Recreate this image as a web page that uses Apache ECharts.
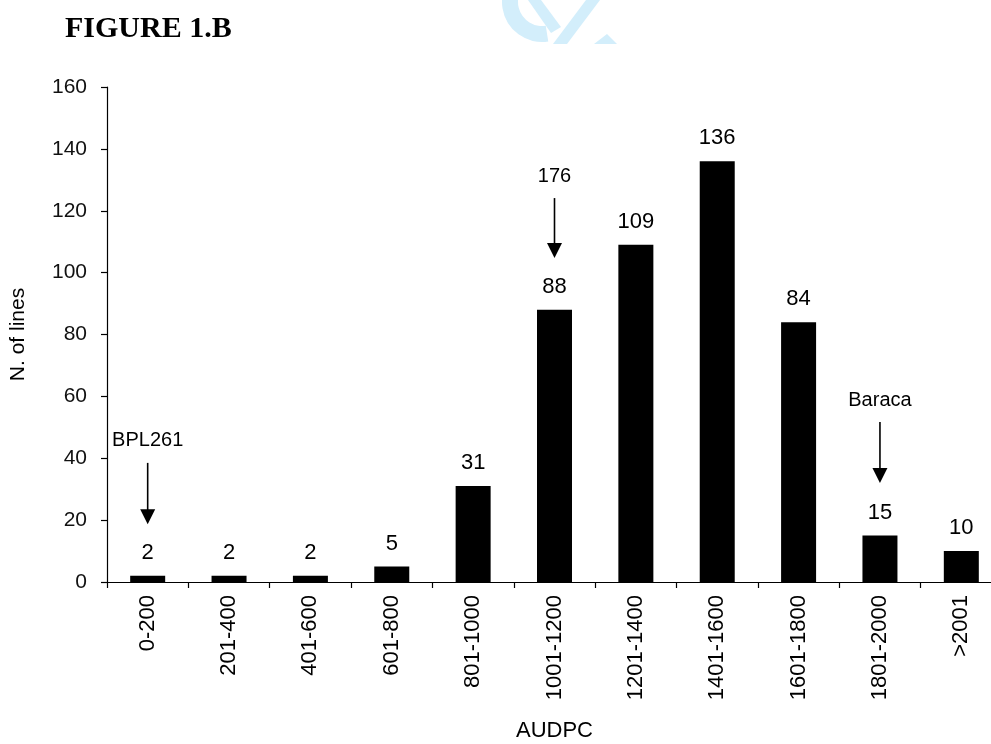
<!DOCTYPE html>
<html>
<head>
<meta charset="utf-8">
<title>FIGURE 1.B</title>
<script src="https://cdn.jsdelivr.net/npm/echarts@6/dist/echarts.min.js"></script>
<style>
  html, body { margin: 0; padding: 0; background: #fff; }
  #chart { width: 991px; height: 744px; }
</style>
</head>
<body>
<div id="chart"></div>
<script>
// AUDPC classes and the number of lines falling in each class
const categories = ['0-200', '201-400', '401-600', '601-800', '801-1000', '1001-1200',
  '1201-1400', '1401-1600', '1601-1800', '1801-2000', '>2001'];
const lineCounts = [2, 2, 2, 5, 31, 88, 109, 136, 84, 15, 10];

// Annotated lines: class they fall in, arrow start and tip (in axis units)
const noteLabels = ['BPL261', '176', 'Baraca'];
const noteClasses = ['0-200', '1001-1200', '1801-2000'];
const noteArrowFrom = [38.5, 124.1, 51.7];
const noteArrowTo = [18.7, 104.7, 32];

const FONT = 'Liberation Sans, Arial, Helvetica, sans-serif';
const WATERMARK = '#d3eefb';

const chart = echarts.init(document.getElementById('chart'), null, { renderer: 'canvas' });

const arrowData = noteClasses.map((c, i) => [categories.indexOf(c), noteArrowFrom[i], noteArrowTo[i]]);

function renderArrow(params, api) {
  const start = api.coord([api.value(0), api.value(1)]);
  const tip = api.coord([api.value(0), api.value(2)]);
  const x = start[0];
  const head = 15;
  const half = 7.5;
  return {
    type: 'group',
    children: [
      {
        type: 'line',
        shape: { x1: x, y1: start[1], x2: x, y2: tip[1] - head + 1 },
        style: { stroke: '#000', lineWidth: 1.6 }
      },
      {
        type: 'polygon',
        shape: { points: [[x - half, tip[1] - head], [x + half, tip[1] - head], [x, tip[1]]] },
        style: { fill: '#000' }
      },
      {
        type: 'text',
        x: x,
        y: start[1] - 12,
        style: {
          text: noteLabels[params.dataIndex],
          fontFamily: FONT,
          fontSize: 20,
          fill: '#000',
          align: 'center',
          verticalAlign: 'bottom'
        }
      }
    ]
  };
}

const option = {
  backgroundColor: '#fff',
  animation: false,
  graphic: [
    {
      type: 'text',
      left: 65,
      top: 14,
      style: {
        text: 'FIGURE 1.B',
        fontFamily: 'Liberation Serif, Times New Roman, serif',
        fontWeight: 'bold',
        fontSize: 30,
        fill: '#000'
      }
    },
    // pale page stamp peeking in at the top edge
    {
      type: 'group',
      silent: true,
      z: -10,
      children: [
        {
          type: 'sector',
          shape: { cx: 542, cy: 2, r: 40, r0: 24, startAngle: Math.PI * 0.45, endAngle: Math.PI * 1.05 },
          style: { fill: WATERMARK }
        },
        {
          type: 'polygon',
          shape: { points: [[528, 0], [541, 0], [561, 27], [551, 33]] },
          style: { fill: WATERMARK }
        },
        {
          type: 'polygon',
          shape: { points: [[553, 44], [567, 44], [600, 0], [586, 0]] },
          style: { fill: WATERMARK }
        },
        {
          type: 'polygon',
          shape: { points: [[594, 44], [617, 44], [607, 34]] },
          style: { fill: WATERMARK }
        }
      ]
    }
  ],
  grid: {
    left: 107,
    right: -11,
    top: 87,
    bottom: 162,
    outerBoundsMode: 'none',
    containLabel: false
  },
  xAxis: {
    type: 'category',
    data: categories,
    name: 'AUDPC',
    nameLocation: 'middle',
    nameGap: 138,
    nameTextStyle: { fontFamily: FONT, fontSize: 22, color: '#000' },
    axisLine: { lineStyle: { color: '#000', width: 1.2 } },
    axisTick: { show: true, length: 6, lineStyle: { color: '#000', width: 1.2 } },
    axisLabel: {
      rotate: 90,
      margin: 13,
      fontFamily: FONT,
      fontSize: 22,
      color: '#000',
      interval: 0
    },
    splitLine: { show: false }
  },
  yAxis: {
    type: 'value',
    min: 0,
    max: 160,
    interval: 20,
    name: 'N. of lines',
    nameLocation: 'middle',
    nameGap: 78,
    nameTextStyle: { fontFamily: FONT, fontSize: 21, color: '#000' },
    axisLine: { show: true, lineStyle: { color: '#000', width: 1.2 } },
    axisTick: { show: true, length: 6, lineStyle: { color: '#000', width: 1.2 } },
    axisLabel: { margin: 20, fontFamily: FONT, fontSize: 21, color: '#111' },
    splitLine: { show: false }
  },
  series: [
    {
      type: 'bar',
      data: lineCounts,
      barWidth: 35,
      itemStyle: { color: '#000' },
      label: {
        show: true,
        position: 'top',
        distance: 12,
        fontFamily: FONT,
        fontSize: 22,
        color: '#000'
      }
    },
    {
      type: 'custom',
      renderItem: renderArrow,
      data: arrowData,
      silent: true,
      z: 5
    }
  ]
};

chart.setOption(option);
</script>
</body>
</html>
